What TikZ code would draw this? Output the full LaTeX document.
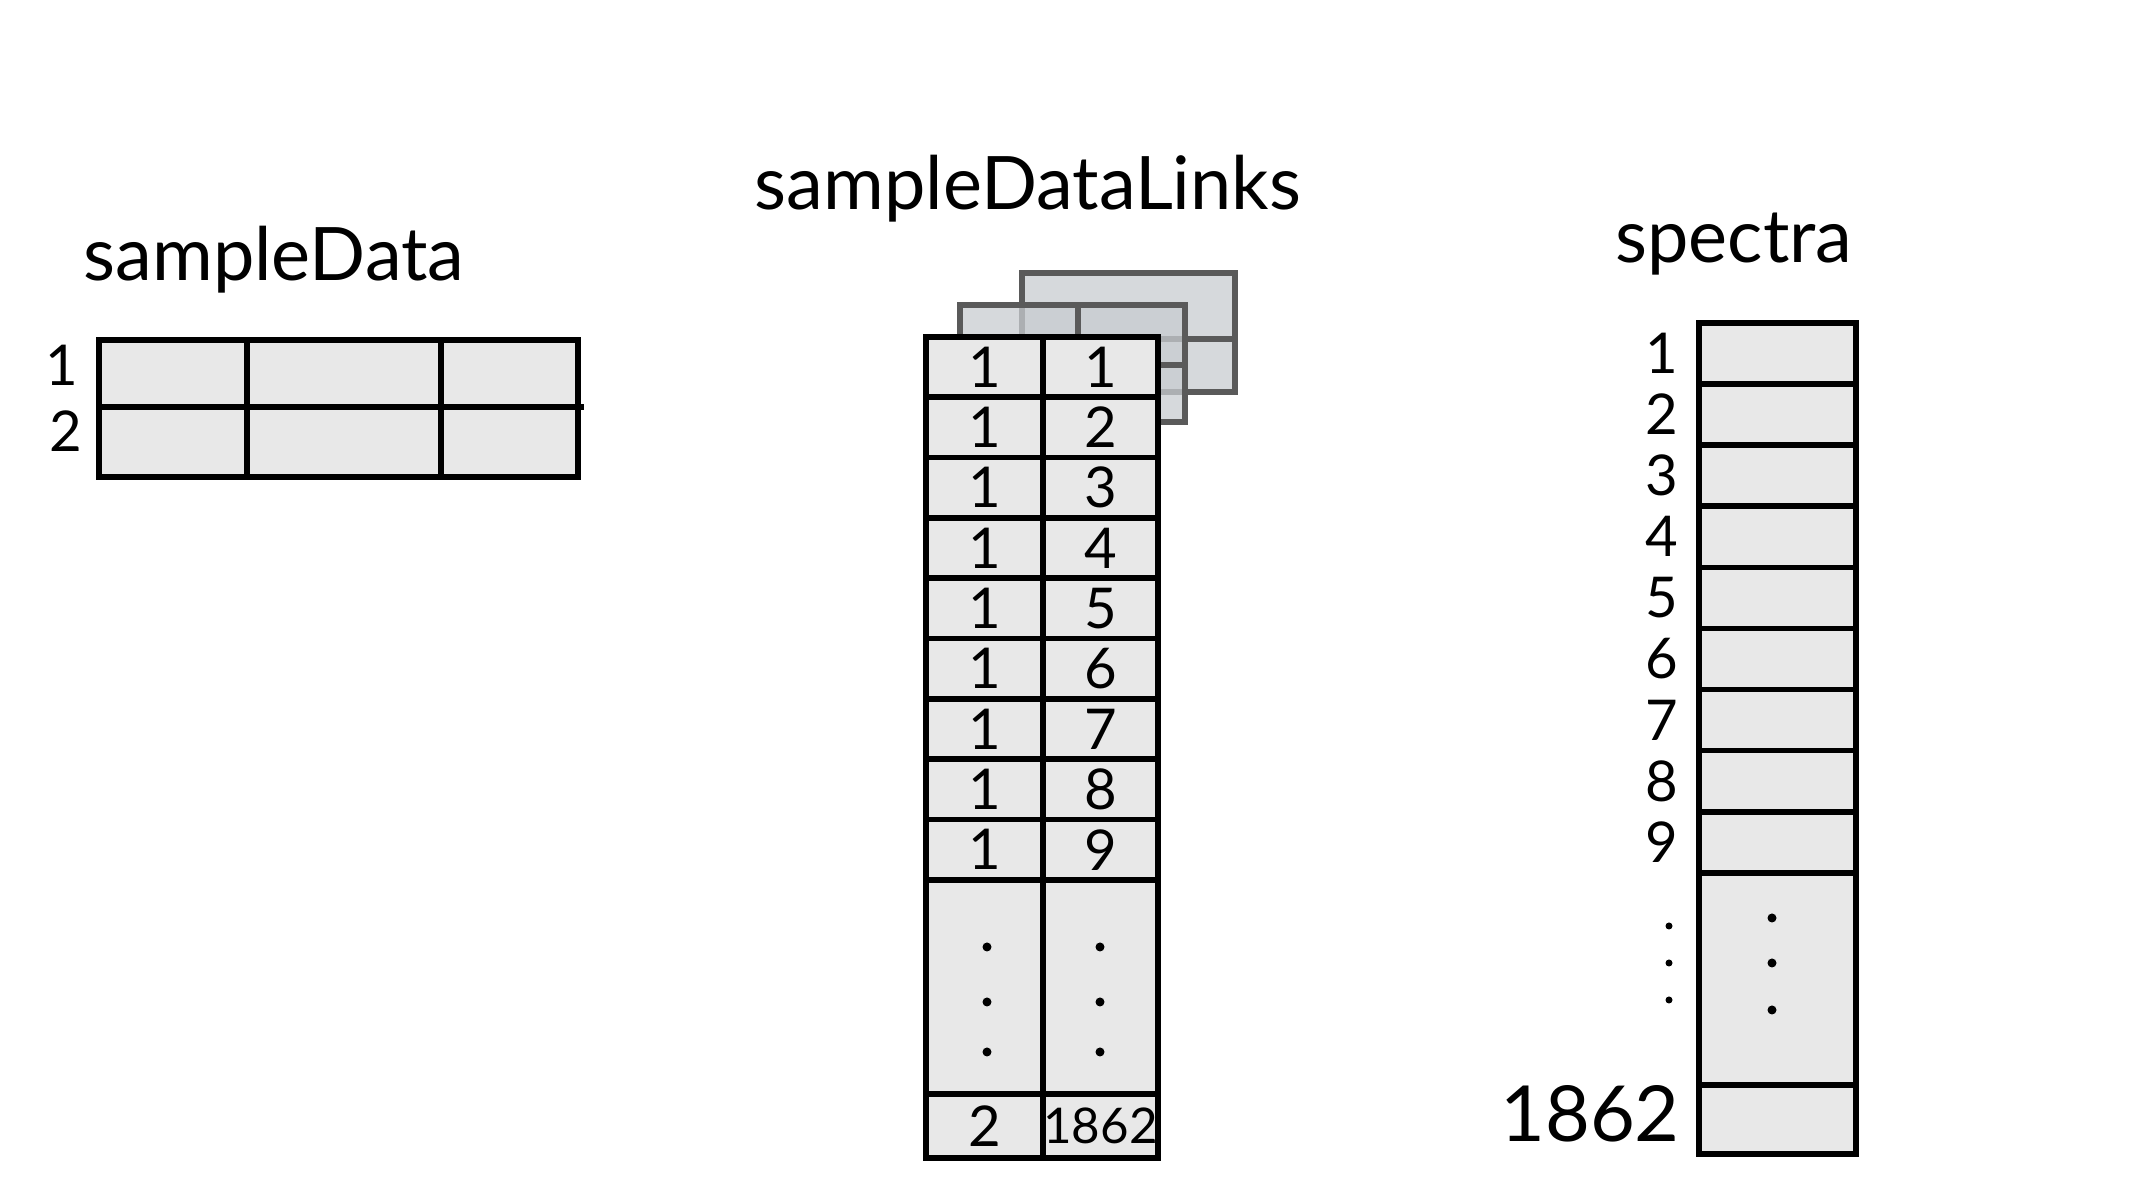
\documentclass[tikz,border=0pt]{standalone}
\usepackage{fontspec}
\setmainfont{Lato}
\usepackage{tikz}
\usetikzlibrary{positioning}

\begin{document}
\begin{tikzpicture}[
    tablebox/.style={draw=black, line width=1.6pt, fill=cellgray},
    rule/.style={draw=black, line width=1.6pt},
    sheet/.style={draw=sheetline, line width=1.6pt, fill=sheetgray, fill opacity=0.75},
    title/.style={font=\fontsize{21}{25}\selectfont},
    digit/.style={font=\fontsize{16}{19}\selectfont},
    bigdigit/.style={font=\fontsize{22}{26}\selectfont},
    smalldigit/.style={font=\fontsize{14}{17}\selectfont},
]
    % Define colors
    \definecolor{cellgray}{RGB}{232,232,232}
    \definecolor{sheetgray}{RGB}{200,204,208}
    \definecolor{sheetline}{RGB}{90,90,90}

    \useasboundingbox (0,0) rectangle (21.49,11.87);

    % Titles
    \node[title] (sdtitle) at (2.74,9.27) {sampleData};
    \node[title] (linkstitle) at (10.28,9.98) {sampleDataLinks};
    \node[title] (spectitle) at (17.34,9.43) {spectra};

    % sampleData: two rows, three columns
    \draw[tablebox] (0.99,7.10) rectangle (5.78,8.47);
    \draw[rule] (0.99,7.80) -- (5.84,7.80);
    \foreach \x in {2.47,4.41}
        \draw[rule] (\x,7.10) -- (\x,8.47);
    \node[digit] (sdrow1) at (0.62,8.22) {1};
    \node[digit] (sdrow2) at (0.66,7.56) {2};

    % sampleDataLinks: stacked sheets behind
    \draw[sheet] (10.22,7.95) rectangle (12.35,9.14);
    \draw[draw=sheetline, line width=1.6pt] (10.22,8.48) -- (12.35,8.48);
    \draw[sheet] (9.60,7.65) rectangle (11.85,8.82);
    \draw[draw=sheetline, line width=1.6pt] (10.78,7.65) -- (10.78,8.82);
    \draw[draw=sheetline, line width=1.6pt] (9.60,8.22) -- (11.85,8.22);

    % sampleDataLinks: front table
    \draw[tablebox] (9.26,0.29) rectangle (11.58,8.50);
    \foreach \i in {1,...,9}
        \draw[rule] (9.26,8.50-0.6033*\i) -- (11.58,8.50-0.6033*\i);
    \draw[rule] (9.26,0.93) -- (11.58,0.93);
    \draw[rule] (10.43,0.29) -- (10.43,8.50);
    \foreach \i [evaluate=\i as \y using 8.8017-0.6033*\i] in {1,...,9} {
        \node[digit] (linka\i) at (9.845,\y) {1};
        \node[digit] (linkb\i) at (11.005,\y) {\i};
    }
    \foreach \y in {2.40,1.85,1.35} {
        \fill (9.87,\y) circle (0.045);
        \fill (11.00,\y) circle (0.045);
    }
    \node[digit] (linkalast) at (9.845,0.61) {2};
    \node[smalldigit] (linkblast) at (11.005,0.61) {1862};

    % spectra: one column
    \draw[tablebox] (16.99,0.33) rectangle (18.56,8.64);
    \foreach \i in {1,...,9}
        \draw[rule] (16.99,8.64-0.611*\i) -- (18.56,8.64-0.611*\i);
    \draw[rule] (16.99,1.02) -- (18.56,1.02);
    \foreach \i [evaluate=\i as \y using 8.9455-0.611*\i] in {1,...,9}
        \node[digit] (sprow\i) at (16.62,\y) {\i};
    \foreach \y in {2.61,2.24,1.87}
        \fill (16.69,\y) circle (0.035);
    \foreach \y in {2.69,2.24,1.77}
        \fill (17.72,\y) circle (0.045);
    \node[bigdigit] (sprowlast) at (15.90,0.73) {1862};
\end{tikzpicture}
\end{document}
